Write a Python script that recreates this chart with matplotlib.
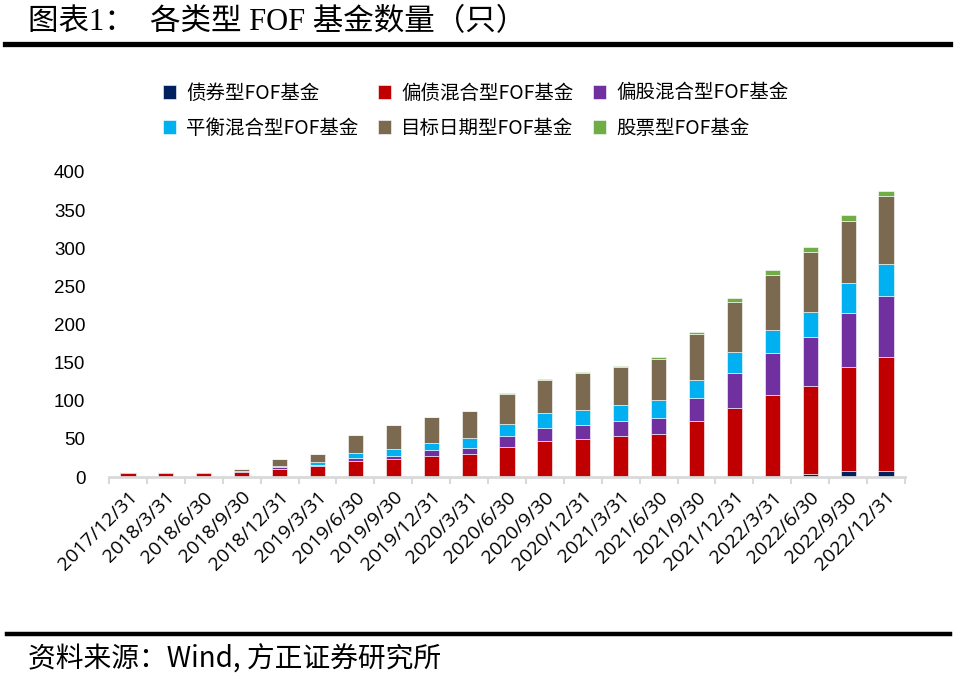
import matplotlib.pyplot as plt
from matplotlib.lines import Line2D
import numpy as np

# quarter-end dates
dates = ["2017/12/31", "2018/3/31", "2018/6/30", "2018/9/30", "2018/12/31",
         "2019/3/31", "2019/6/30", "2019/9/30", "2019/12/31", "2020/3/31",
         "2020/6/30", "2020/9/30", "2020/12/31", "2021/3/31", "2021/6/30",
         "2021/9/30", "2021/12/31", "2022/3/31", "2022/6/30", "2022/9/30",
         "2022/12/31"]

bond =      [0, 0, 0, 0, 0, 0, 0, 0, 0, 0, 0, 0, 0, 0, 0, 0, 0, 0, 4, 8, 8]
bond_mix =  [5, 5, 5, 7, 10, 14, 21, 23, 28, 30, 39, 47, 50, 54, 56, 73, 91, 108, 115, 136, 149]
stock_mix = [2, 2, 2, 1, 3, 2, 4, 5, 7, 8, 15, 17, 18, 20, 22, 31, 45, 55, 64, 71, 81]
balanced =  [0, 0, 0, 0, 2, 4, 6, 9, 10, 13, 16, 20, 20, 20, 23, 23, 28, 30, 33, 40, 41]
target =    [0, 0, 0, 2, 9, 10, 24, 31, 34, 35, 39, 43, 48, 50, 54, 61, 66, 72, 79, 81, 89]
stock =     [0, 0, 0, 0, 0, 0, 0, 0, 0, 0, 1, 2, 2, 2, 2, 2, 5, 6, 6, 7, 7]

names = ["债券型FOF基金", "偏债混合型FOF基金", "偏股混合型FOF基金",
         "平衡混合型FOF基金", "目标日期型FOF基金", "股票型FOF基金"]
colors = ["#002060", "#C00000", "#7030A0", "#00B0F0", "#7B6A4F", "#70AD47"]
series = [bond, bond_mix, stock_mix, balanced, target, stock]

cjk = ["Noto Sans CJK SC", "DejaVu Sans"]

fig = plt.figure(figsize=(9.57, 6.79), dpi=100)
ax = fig.add_axes([109 / 957, 1 - 477 / 679, 796 / 957, 305 / 679])

x = np.arange(len(dates))
bottom = np.zeros(len(dates))
handles = []
for vals, name, c in zip(series, names, colors):
    vals = np.array(vals, dtype=float)
    b = ax.bar(x, vals, width=0.4, bottom=bottom, color=c, edgecolor="white",
               linewidth=0.4, label=name)
    handles.append(b)
    bottom += vals

ax.set_xlim(-0.5, len(dates) - 0.5)
ax.set_ylim(0, 400)
ax.set_yticks(np.arange(0, 401, 50))
ax.tick_params(axis="y", length=0, pad=17, labelsize=13.5)
for t in ax.get_yticklabels():
    t.set_fontfamily("Liberation Sans")

ax.set_xticks(x)
ax.set_xticklabels(dates, rotation=45, ha="right", rotation_mode="anchor",
                   fontsize=14, family="Open Sans")
ax.tick_params(axis="x", length=0, pad=8)
ax.set_xticks(np.arange(-0.5, len(dates), 1), minor=True)
ax.tick_params(axis="x", which="minor", length=5, width=1.5, color="#d9d9d9")

for s in ["top", "right", "left"]:
    ax.spines[s].set_visible(False)
ax.spines["bottom"].set_color("#d9d9d9")
ax.spines["bottom"].set_linewidth(2)

# legend: row-wise order -> reorder for column-filled ncol=3
order = [0, 3, 1, 4, 2, 5]
leg = fig.legend([handles[i] for i in order], [names[i] for i in order],
                 ncol=3, loc="upper left", bbox_to_anchor=(145 / 957, 1 - 65 / 679),
                 frameon=False, prop={"family": cjk, "size": 14},
                 handlelength=0.7, handleheight=0.7, handletextpad=0.5,
                 columnspacing=1.0, labelspacing=0.75)

# title and rules
fig.text(28 / 957, 1 - 23 / 679, "图表1：  各类型 FOF 基金数量（只）",
         family=["Liberation Serif", "Noto Sans CJK SC"], fontsize=22, va="center")
fig.add_artist(Line2D([5 / 957, 950 / 957], [1 - 44 / 679] * 2, color="black",
                      linewidth=3.8, transform=fig.transFigure))
fig.add_artist(Line2D([7 / 957, 950 / 957], [1 - 634 / 679] * 2, color="black",
                      linewidth=3.2, transform=fig.transFigure))
fig.text(28 / 957, 1 - 660 / 679, "资料来源：Wind, 方正证券研究所",
         family=cjk, fontsize=20, va="center", style="italic")

fig.savefig("out.png", dpi=100)
